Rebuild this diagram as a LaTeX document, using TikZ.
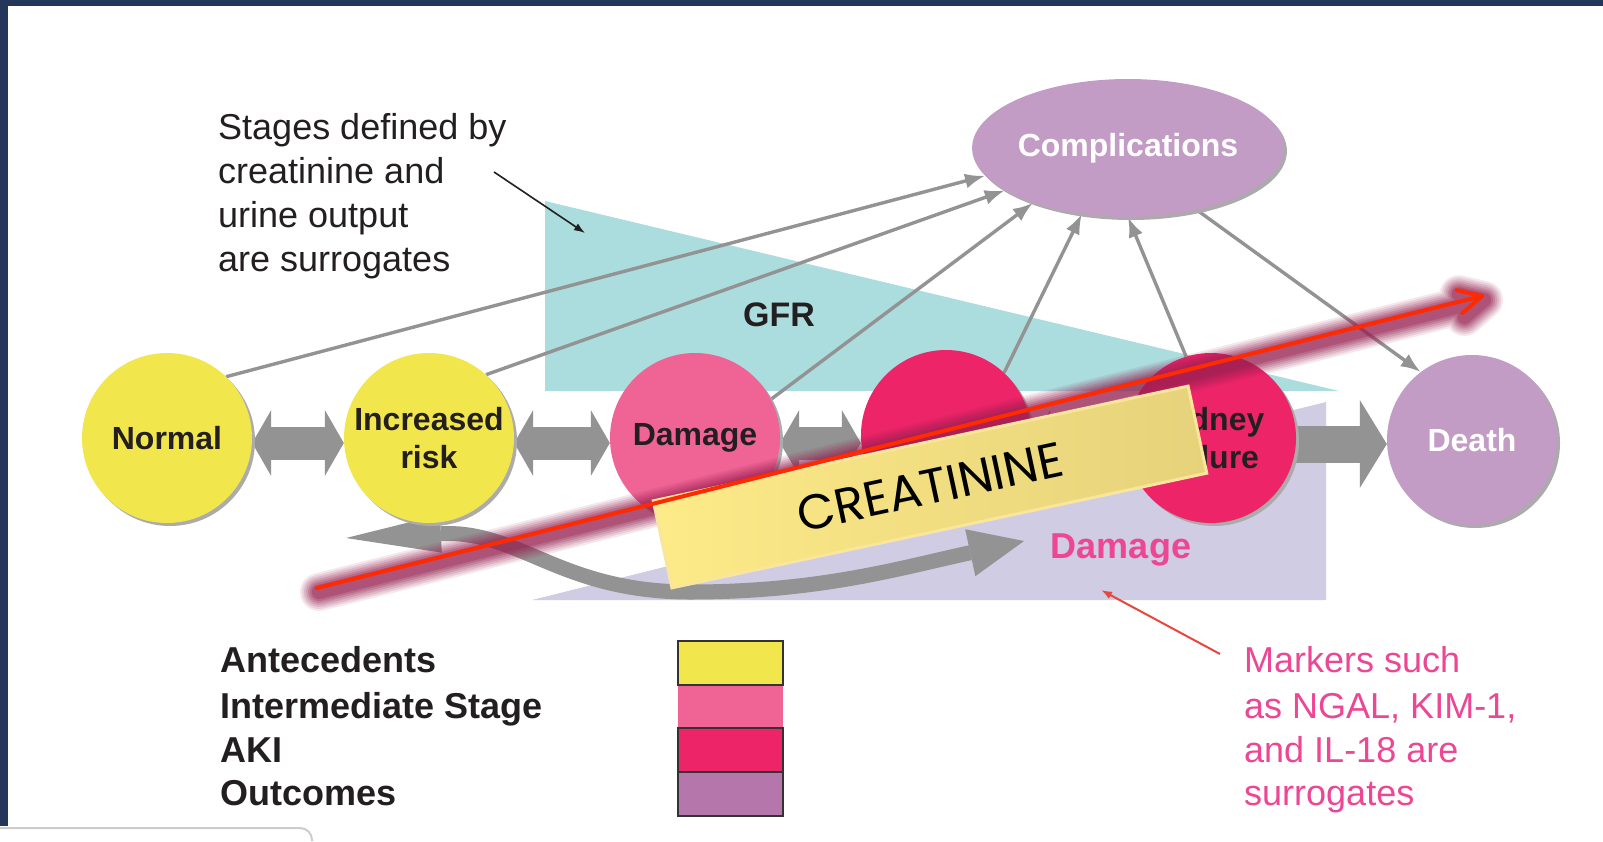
\documentclass[tikz,border=0pt]{standalone}
\usepackage{fontspec}
\setmainfont{Liberation Sans}
\newfontfamily\crfont{Poppins}
\usetikzlibrary{arrows.meta,shapes.geometric,calc}
\pgfdeclarelayer{bg}
\pgfsetlayers{bg,main}
\definecolor{navy}{HTML}{24365A}
\definecolor{ante}{HTML}{F2E64D}
\definecolor{inter}{HTML}{EF6494}
\definecolor{aki}{HTML}{EE2469}
\definecolor{outc}{HTML}{C39CC5}
\definecolor{outleg}{HTML}{B577AB}
\definecolor{arrgray}{HTML}{939393}
\definecolor{gfrc}{HTML}{ABDDDF}
\definecolor{dmgc}{HTML}{CFCCE4}
\definecolor{pinktxt}{HTML}{EC4695}
\definecolor{txt}{HTML}{231F20}
\definecolor{glowc}{RGB}{151,32,80}
\definecolor{redl}{HTML}{FF2A00}
\definecolor{boxa}{HTML}{FDEA88}
\definecolor{boxb}{HTML}{E6D27A}
\definecolor{boxedge}{HTML}{F9E69C}
\definecolor{redann}{HTML}{E8473D}
\begin{document}
\begin{tikzpicture}[x=1pt,y=-1pt,
  shadowed/.style={preaction={fill=black!33, transform canvas={shift={(3pt,-3pt)}}}},
  stage/.style={circle, minimum size=170pt, inner sep=0pt, align=center, text=txt,
     font=\fontsize{32}{38}\selectfont\bfseries, shadowed},
  thinarr/.style={draw=arrgray, line width=3.4pt, -{Latex[length=20pt,width=15pt]}},
  blockdbl/.style={draw=arrgray, line width=33pt,
     {Triangle[length=19pt,width=66pt,line width=0pt]}-{Triangle[length=19pt,width=66pt,line width=0pt]}},
  blocksgl/.style={draw=arrgray, line width=37pt, -{Triangle[length=27pt,width=88pt,line width=0pt]}},
  bigtxt/.style={font=\fontsize{36}{44}\selectfont, inner sep=0pt},
  legtxt/.style={font=\fontsize{36}{44}\selectfont\bfseries, text=txt, inner sep=0pt, anchor=base west},
  swatch/.style={draw=black!80, line width=2pt},
  marktxt/.style={font=\fontsize{36}{44}\selectfont, text=pinktxt, inner sep=0pt, anchor=base west}
]
\useasboundingbox (0,0) rectangle (1603,841);
\begin{pgfonlayer}{bg}
\fill[white] (0,0) rectangle (1603,841);
% frame
\fill[navy] (0,0) rectangle (1603,6);
\fill[navy] (0,0) rectangle (8,826);
\draw[black!20, line width=2pt, rounded corners=12pt] (0,828) -- (312,828) -- (312,841);
% background regions
\fill[gfrc] (545,201) -- (545,391) -- (1339,391) -- cycle;
\fill[dmgc] (532,600) -- (1326,600) -- (1326,402) -- cycle;
% bottom curved arrow
\draw[arrgray, line width=15pt,
  {Triangle[length=95pt,width=38pt,line width=0pt]}-{Triangle[length=55pt,width=48pt,line width=0pt]}]
  (346,538) .. controls (520,530) and (560,592) .. (690,592)
  .. controls (820,592) and (900,568) .. (1024,541);
\end{pgfonlayer}

\node[font=\fontsize{34}{40}\selectfont\bfseries, text=txt, inner sep=0pt] (gfr) at (779,315) {GFR};
\node[font=\fontsize{36}{40}\selectfont\bfseries, text=pinktxt, inner sep=0pt] (dmglab) at (1121,550) {Damage};

% stage nodes
\node[stage, fill=ante] (n1) at (167,438) {Normal};
\node[stage, fill=ante] (n2) at (429,438) {Increased\\risk};
\node[stage, fill=inter] (n3) at (695,438) {Damage};
\node[stage, fill=aki] (n4) at (946,435) {};
\node[stage, fill=aki] (n5) at (1211,438) {Kidney\\failure};
\node[stage, fill=outc, text=white] (n6) at (1472,440) {Death};
\node[ellipse, minimum width=306pt, minimum height=138pt, inner sep=0pt, fill=outc, text=white,
  font=\fontsize{32}{38}\selectfont\bfseries, shadowed] (comp) at (1128,148) {Complications};

% block arrows between stages (behind circles)
\begin{pgfonlayer}{bg}
\path[blockdbl] ([yshift=-5pt]n1.east) -- ([yshift=-5pt]n2.west);
\path[blockdbl] ([yshift=-5pt]n2.east) -- ([yshift=-5pt]n3.west);
\path[blockdbl] ([yshift=-5pt]n3.east) -- ([yshift=-8pt]n4.west);
\path[blockdbl] ([yshift=-8pt]n4.east) -- ([yshift=-5pt]n5.west);
\path[blocksgl] ([yshift=-6pt]n5.east) -- ([yshift=-4pt]n6.west);
% thin arrows to/from complications
\draw[thinarr] (n1.46) -- (comp.191);
\draw[thinarr] (n2.48) -- (comp.199);
\draw[thinarr] (n3.27) -- (comp.210);
\draw[thinarr] (n4.47) -- (comp.235);
\draw[thinarr] (n5.107) -- (comp.270);
\draw[thinarr] (comp.318) -- (n6.127);
\end{pgfonlayer}

% stages annotation
\node[bigtxt, text=txt, align=left, anchor=north west] (stages) at (218,113)
  {Stages defined by\\creatinine and\\urine output\\are surrogates};
\coordinate (stA) at (494,172);
\coordinate (stB) at (585,233);
\draw[txt, line width=1.6pt, -{Latex[length=11pt,width=8pt]}] (stA) -- (stB);

% legend
\node[legtxt] (l1) at (220,672) {Antecedents};
\node[legtxt] (l2) at (220,718) {Intermediate Stage};
\node[legtxt] (l3) at (220,762) {AKI};
\node[legtxt] (l4) at (220,805) {Outcomes};
\fill[inter] (678,685) rectangle (783,728);
\draw[swatch, fill=ante] (678,641) rectangle (783,685);
\draw[swatch, fill=aki] (678,728) rectangle (783,772);
\draw[swatch, fill=outleg] (678,772) rectangle (783,816);

% markers annotation
\node[marktxt] (m1) at (1244,672) {Markers such};
\node[marktxt] (m2) at (1244,718) {as NGAL, KIM-1,};
\node[marktxt] (m3) at (1244,762) {and IL-18 are};
\node[marktxt] (m4) at (1244,805) {surrogates};
\coordinate (mkA) at (1220,654);
\coordinate (mkB) at (1101,590);
\draw[redann, line width=2pt, -{Latex[length=11pt,width=8pt]}] (mkA) -- (mkB);

% creatinine glow arrow
\coordinate (cs) at (317,588);
\coordinate (ce) at (1482,296);
\coordinate (b1) at ($(ce)!26pt!27:(cs)$);
\coordinate (b2) at ($(ce)!26pt!-27:(cs)$);
\begin{scope}[transform canvas={shift={(2pt,-4pt)}}]
\foreach \w/\o in {38/0.1, 34/0.12, 30/0.14, 26/0.17, 22/0.2, 18/0.25, 14/0.3}{
  \draw[glowc, opacity=\o, line width=\w pt, line cap=round, line join=round]
    (b1) -- (ce) -- (b2) (ce) -- (cs);
}
\end{scope}

% creatinine box
\node[draw=boxedge, line width=3pt, left color=boxa, right color=boxb, rotate=12.1,
  minimum width=547pt, minimum height=89pt, inner sep=0pt,
  font=\crfont\fontsize{49}{52}\selectfont, text=black] (cbox) at (930,487) {CREATININE};

% red line
\draw[redl, line width=4pt, line cap=round, line join=round] (cs) -- (ce);
\draw[redl, line width=4pt, line cap=round, line join=round] (b1) -- (ce) -- (b2);
\end{tikzpicture}
\end{document}
